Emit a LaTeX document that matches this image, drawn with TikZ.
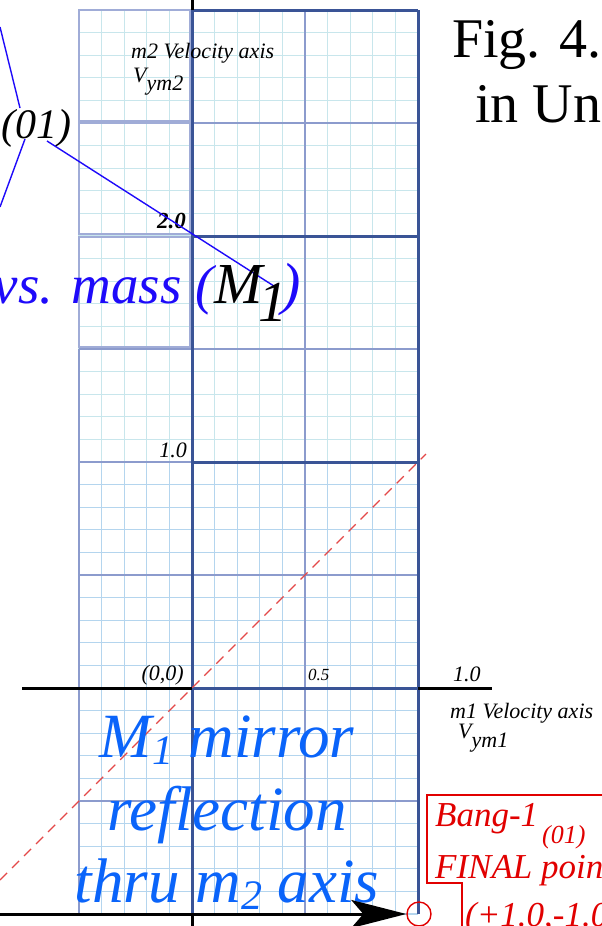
\documentclass[tikz,border=0pt]{standalone}
\usepackage{fontspec}
\setmainfont{LiberationSerif}[Extension=.ttf,UprightFont=*-Regular,ItalicFont=*-Italic,BoldFont=*-Bold,BoldItalicFont=*-BoldItalic]
\usetikzlibrary{arrows.meta}
\definecolor{minorup}{RGB}{200,230,236}
\definecolor{minorlo}{RGB}{180,213,238}
\definecolor{midline}{RGB}{140,155,205}
\definecolor{boxline}{RGB}{160,172,215}
\definecolor{thickline}{RGB}{58,84,150}
\definecolor{vblue}{RGB}{30,10,250}
\definecolor{mblue}{RGB}{10,100,250}
\definecolor{redline}{RGB}{225,0,0}
\definecolor{reddash}{RGB}{228,72,72}
\tikzset{
  minorU/.style={draw=minorup,line width=1.2pt},
  minorL/.style={draw=minorlo,line width=1.2pt},
  medline/.style={draw=midline,line width=1.8pt},
  colbox/.style={draw=boxline,line width=2.4pt},
  bigline/.style={draw=thickline,line width=3pt},
  axisline/.style={draw=black,line width=3pt},
  lbl/.style={inner sep=0pt,font=\fontsize{22}{24}\selectfont\itshape},
  txt/.style={inner sep=0pt},
  redtxt/.style={inner sep=0pt,text=redline,font=\fontsize{35}{38}\selectfont\itshape},
  mirtxt/.style={inner sep=0pt,text=mblue,font=\fontsize{63}{64}\selectfont\itshape},
}
\begin{document}
\begin{tikzpicture}[x=1pt,y=-1pt]
\useasboundingbox (0,0) rectangle (602,926);
\clip (0,0) rectangle (602,926);
\fill[white] (0,0) rectangle (602,926);
% minor grid
\foreach \i in {0,...,15} \draw[minorU] ({79+22.6*\i},10) -- ({79+22.6*\i},462);
\foreach \j in {0,...,20} \draw[minorU] (79,{10+22.6*\j}) -- (418,{10+22.6*\j});
\foreach \i in {0,...,15} \draw[minorL] ({79+22.6*\i},462) -- ({79+22.6*\i},914);
\foreach \j in {20,...,40} \draw[minorL] (79,{10+22.6*\j}) -- (418,{10+22.6*\j});
% left column boxes
\draw[colbox] (79,10) rectangle (190,121);
\draw[colbox] (79,123) rectangle (190,234);
\draw[colbox] (79,237) rectangle (190,347);
% medium lines
\draw[medline] (305,10) -- (305,914);
\foreach \y in {123,349,575,801} \draw[medline] (192,\y) -- (418,\y);
\draw[medline] (79,349) -- (79,914);
\foreach \y in {349,462,575,801} \draw[medline] (79,\y) -- (192,\y);
% thick lines
\draw[bigline] (192,10) -- (192,914);
\draw[bigline] (418,10) -- (418,914);
\foreach \y in {10,236,462,688} \draw[bigline] (192,\y) -- (418,\y);
% axes
\coordinate (haxL) at (22,688);
\coordinate (origin) at (192,688);
\coordinate (haxR1) at (418,688);
\coordinate (haxR2) at (492,688);
\draw[axisline] (haxL) -- (origin);
\draw[axisline] (haxR1) -- (haxR2);
\coordinate (vtop) at (192,0);
\coordinate (vtop2) at (192,10);
\coordinate (vbot) at (192,914);
\coordinate (vbot2) at (192,926);
\draw[axisline] (vtop) -- (vtop2);
\draw[axisline] (vbot) -- (vbot2);
% red dashed diagonal
\coordinate (dA) at (0,880);
\coordinate (dB) at (426,454);
\draw[reddash,line width=1.3pt,dash pattern=on 10pt off 7pt] (dA) -- (dB);
% labels on grid
\node[lbl,anchor=base west] (m2lab) at (131,58) {m2 Velocity axis};
\node[lbl,anchor=base west] (vym2) at (133,82) {V\raisebox{-8pt}{ym2}};
\node[lbl,anchor=base east,font=\fontsize{23}{24}\selectfont\itshape\bfseries] (two) at (186,228) {2.0};
\node[lbl,anchor=base east] (oneA) at (187,457) {1.0};
\node[lbl,anchor=base east] (zero) at (184,680) {(0,0)};
\node[lbl,anchor=base west,font=\fontsize{17}{20}\selectfont\itshape] (half) at (308,680) {0.5};
\node[lbl,anchor=base west] (oneB) at (453,681) {1.0};
\node[lbl,anchor=base west] (m1lab) at (450,718) {m1 Velocity axis};
\node[lbl,anchor=base west] (vym1) at (458,738) {V\raisebox{-9pt}{ym1}};
% (01) and blue lines
\node[txt,anchor=base west,font=\fontsize{42}{44}\selectfont\itshape] (zo) at (1,138) {(01)};
\coordinate (bA1) at (0,27);
\coordinate (bA2) at (20,108);
\coordinate (bB1) at (25,139);
\coordinate (bB2) at (0,207);
\coordinate (bC1) at (47,141);
\coordinate (bC2) at (277,288);
\draw[vblue,line width=1.4pt] (bA1) -- (bA2);
\draw[vblue,line width=1.4pt] (bB1) -- (bB2);
\draw[vblue,line width=1.4pt] (bC1) -- (bC2);
% vs. mass (M1)
\node[txt,anchor=base east,text=vblue,font=\fontsize{55}{60}\selectfont\itshape] (vsmass) at (214,303) {vs. mass (};
\node[txt,anchor=base west,font=\fontsize{58}{60}\selectfont\itshape] (Mone) at (214,303) {M\kern-4pt\raisebox{-18pt}{1}\kern-6pt\textcolor{vblue}{)}};
% Fig caption
\node[txt,anchor=base west,font=\fontsize{56}{60}\selectfont] (fig) at (452,57) {Fig. 4.4};
\node[txt,anchor=base west,font=\fontsize{56}{60}\selectfont] (figb) at (475,122) {in Units};
% mirror text
\node[mirtxt,anchor=base] (mirA) at (227,757) {M\raisebox{-7pt}{\fontsize{42}{42}\selectfont 1} mirror};
\node[mirtxt,anchor=base] (mirB) at (227,830) {reflection};
\node[mirtxt,anchor=base] (mirC) at (227,902) {thru m\raisebox{-7pt}{\fontsize{42}{42}\selectfont 2} axis};
% bottom arrow and red circle
\coordinate (arrS) at (0,914);
\node[draw=redline,line width=1.4pt,circle,minimum size=24pt,inner sep=0pt] (fin) at (419,914) {};
\draw[axisline,-{Stealth[length=55pt,width=28pt,inset=12pt]}] (arrS) -- (fin.west);
% red box
\coordinate (rb1) at (610,795);
\coordinate (rb2) at (427,795);
\coordinate (rb3) at (427,883);
\coordinate (rb4) at (462,883);
\coordinate (rb5) at (462,930);
\draw[redline,line width=2pt] (rb1) -- (rb2) -- (rb3) -- (rb4) -- (rb5);
\node[redtxt,anchor=base west] (bang) at (435,826) {Bang-1\kern4pt\raisebox{-17pt}{\fontsize{26}{26}\selectfont(01)}};
\node[redtxt,anchor=base west] (final) at (435,878) {FINAL point};
\node[redtxt,anchor=base west] (coord) at (465,926) {(+1.0,-1.0)};
\end{tikzpicture}
\end{document}
